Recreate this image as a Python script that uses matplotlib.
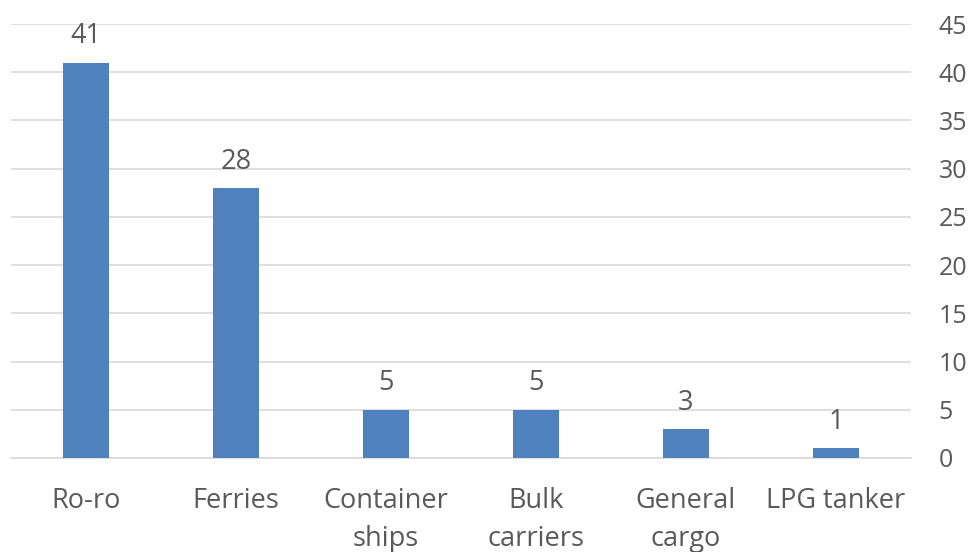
import matplotlib
matplotlib.use("Agg")
import matplotlib.pyplot as plt

categories = ["Ro-ro", "Ferries", "Container\nships", "Bulk\ncarriers", "General\ncargo", "LPG tanker"]
counts = [41, 28, 5, 5, 3, 1]
yticks = list(range(0, 50, 5))

plt.rcParams["font.family"] = ["Open Sans", "DejaVu Sans"]
bar_color = "#4F81BD"
text_color = "#595959"

fig = plt.figure(figsize=(9.74, 5.52), dpi=100, facecolor="w")
ax = fig.add_axes([0.0113, 0.1703, 0.9240, 0.7862])

x = range(len(categories))
bars = ax.bar(x, counts, width=0.31, color=bar_color, zorder=3)
for b, v in zip(bars, counts):
    ax.annotate(str(v), (b.get_x() + b.get_width() / 2, v), xytext=(0, 14),
                textcoords="offset points", ha="center", va="baseline",
                fontsize=19.5, color=text_color)

ax.set_xlim(-0.5, len(categories) - 0.5)
ax.set_ylim(0, 45)
ax.set_yticks(yticks)
ax.yaxis.tick_right()
for lab in ax.get_yticklabels():
    lab.set_horizontalalignment("left")
ax.tick_params(axis="y", length=0, labelsize=18, labelcolor=text_color, pad=20)
ax.set_xticks(list(x))
ax.set_xticklabels(categories, fontsize=19.5, color=text_color, linespacing=1.45)
ax.tick_params(axis="x", length=0, pad=21)
ax.grid(axis="y", color="#D9D9D9", linewidth=1.2, zorder=0)
for s in ["top", "left", "right"]:
    ax.spines[s].set_visible(False)
ax.spines["bottom"].set_color("#D9D9D9")
ax.spines["bottom"].set_linewidth(1.2)

fig.savefig("out.png", dpi=100, facecolor="w")
